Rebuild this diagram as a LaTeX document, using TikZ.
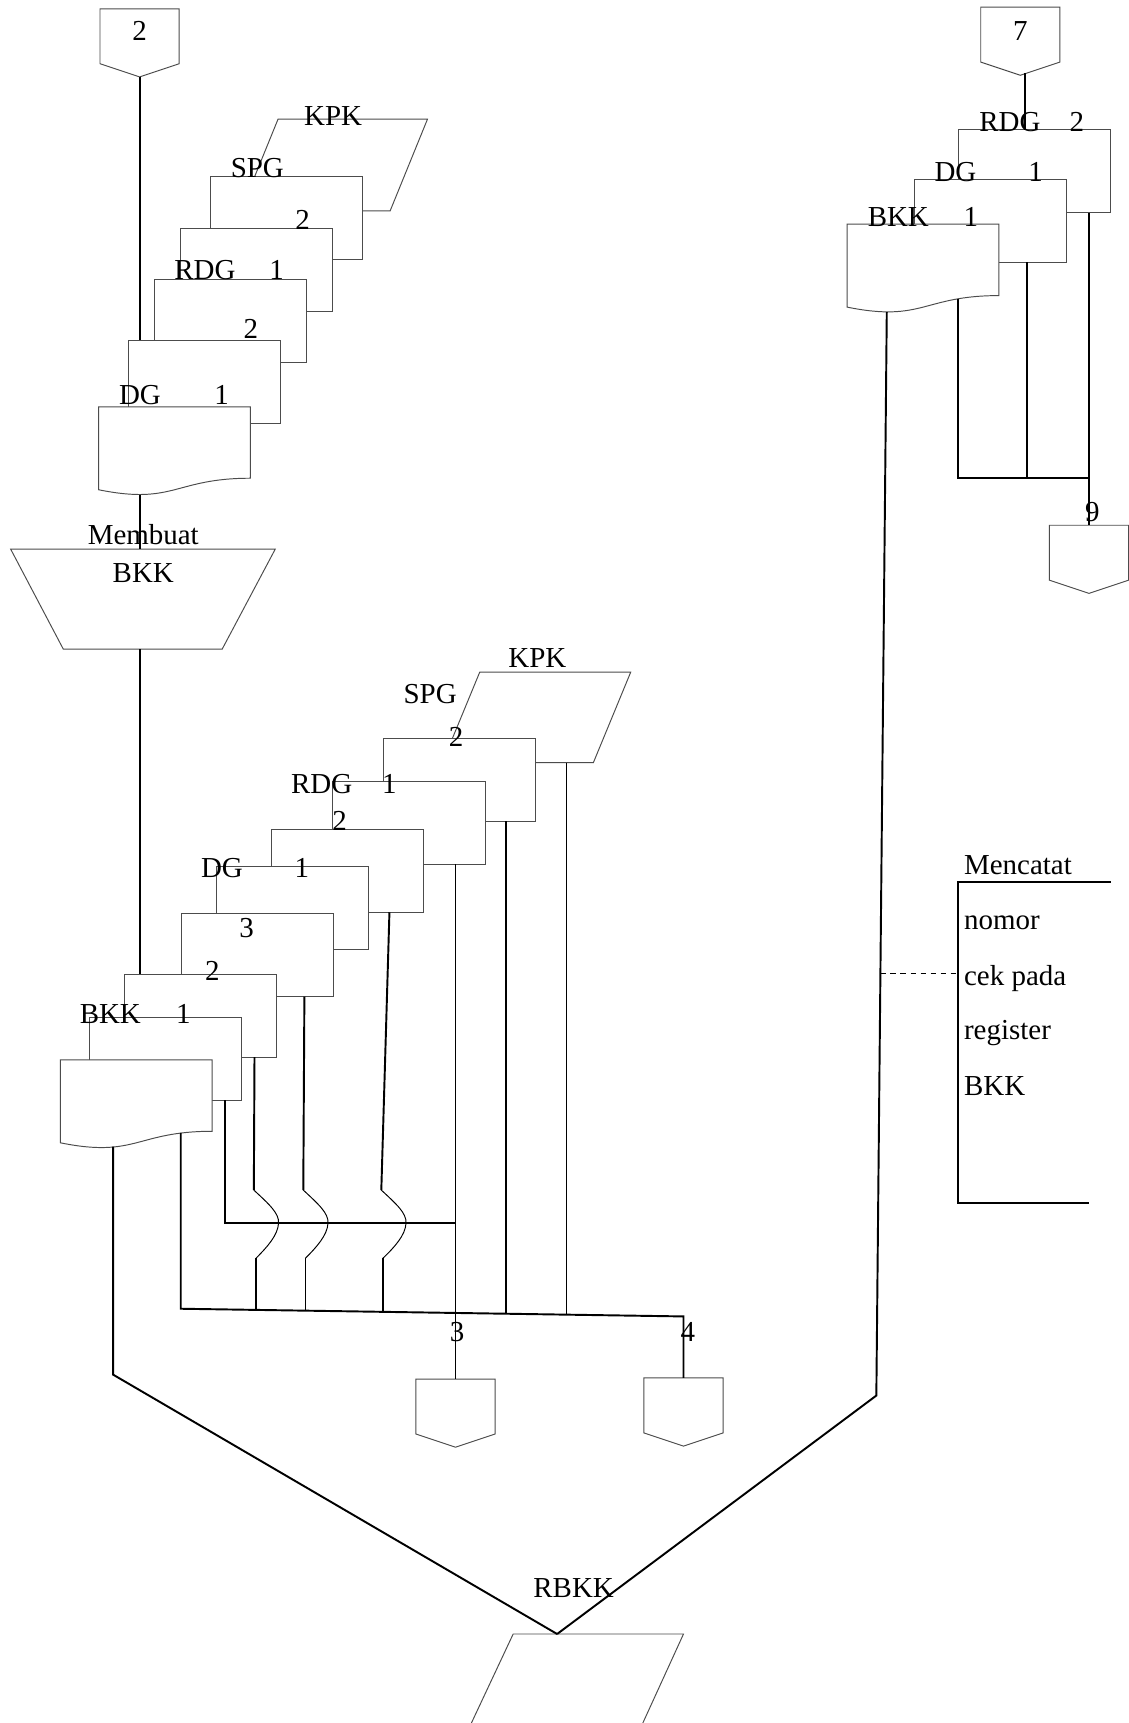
\documentclass[tikz,border=0pt]{standalone}
\usepackage{fontspec}
\setmainfont{Liberation Serif}
\usetikzlibrary{positioning, calc}
\tikzset{
  lembar/.style={rectangle, draw=black!70, fill=white, line width=0.5pt,
    minimum width=2.77cm, minimum height=1.51cm, inner sep=0pt, outer sep=0pt,
    anchor=north west},
  teks/.style={inner sep=0pt, anchor=base, font=\fontsize{15}{18}\selectfont},
  alur/.style={line width=1pt, color=black},
  tipis/.style={line width=0.5pt, draw=black!70},
  lompat/.style={line width=0.5pt, color=black},
  putus/.style={line width=0.8pt, color=black, dash pattern=on 3pt off 2.2pt},
  dokumen/.pic={
    \draw[tipis, fill=white] (0,0) -- (138,0) -- (138,65)
      .. controls (69,65) and (69,89.5) .. (0,75.5) -- cycle;
  },
  offpage/.pic={
    \draw[tipis, fill=white] (-36,0) -- (36,0) -- (36,50) -- (0,62) -- (-36,50) -- cycle;
    \coordinate (-atas) at (0,0);
    \coordinate (-bawah) at (0,62);
  }
}
\begin{document}
\begin{tikzpicture}[x=0.02cm, y=-0.02cm]
  \path[use as bounding box, fill=white] (0,0) rectangle (1027,1568);

  % Kiri atas: dokumen masuk
  \pic (kon2) at (127,8) {offpage};
  \draw[tipis, fill=white] (253,108.5) -- (389,108.5) -- (355,192) -- (219,192) -- cycle;
  \node[lembar] (spgA) at (191.6,160.4) {};
  \node[lembar] (rdgA2) at (164,207.7) {};
  \node[lembar] (rdgA) at (140.4,254) {};
  \node[lembar] (dgA2) at (116.7,309.6) {};
  \pic (dgA) at (89.8,370.2) {dokumen};
  \coordinate (dgA-keluar) at (127,450.3);

  % Proses manual
  \draw[tipis, fill=white] (9.7,499.7) -- (250.5,499.7) -- (202.2,590.7) -- (57.6,590.7) -- cycle;
  \coordinate (proses-atas) at (127,499.7);
  \coordinate (proses-bawah) at (127,590.7);

  % Kiri bawah: dokumen keluar
  \draw[tipis, fill=white] (436.6,611.6) -- (574,611.6) -- (540,694) -- (402.6,694) -- cycle;
  \coordinate (kpkB-bawah) at (515.5,694);
  \node[lembar] (spgB) at (348.7,672) {};
  \node[lembar] (rdgB) at (303,711) {};
  \node[lembar] (rdgB2) at (246.8,754.7) {};
  \node[lembar] (dgB) at (197,788.5) {};
  \node[lembar] (bkkB3) at (165.3,831.5) {};
  \node[lembar] (bkkB2) at (113.3,886.5) {};
  \node[lembar] (bkkB) at (81.5,926) {};
  \pic (bkkDok) at (55,964.5) {dokumen};
  \coordinate (bkkDok-kiri) at (103,1043.5);
  \coordinate (bkkDok-kanan) at (164.5,1031);

  \pic (kon3) at (414.5,1255) {offpage};
  \pic (kon4) at (622,1254) {offpage};

  % Arsip RBKK
  \draw[tipis, fill=white] (429,1568) -- (467,1487) -- (622,1487) -- (585,1568);
  \coordinate (rbkk) at (507,1487);

  % Kanan atas
  \pic (kon7) at (928.5,6.5) {offpage};
  \coordinate (kon7-keluar) at (933,66.5);
  \node[lembar] (rdgC) at (872,118) {};
  \node[lembar] (dgC) at (832,163) {};
  \pic (bkkC) at (771,204) {dokumen};
  \coordinate (bkkC-kanan) at (872,272);
  \coordinate (bkkC-bawah) at (807,284);
  \pic (kon9) at (991,478) {offpage};

  % Garis alir
  \draw[alur] (kon2-bawah) -- (dgA2.north -| kon2-bawah);
  \draw[alur] (dgA-keluar) -- (proses-atas);
  \draw[alur] (proses-bawah) -- (bkkB2.north -| proses-bawah);

  \coordinate (sudutKiri) at (103,1251);
  \draw[alur] (bkkDok-kiri) -- (sudutKiri) -- (rbkk);
  \coordinate (busKiri) at (164.5,1191);
  \coordinate (busKanan) at (622,1198);
  \draw[alur] (bkkDok-kanan) -- (busKiri) -- (busKanan) -- (kon4-atas);
  \coordinate (busAtas) at (205,1113);
  \draw[alur] (bkkB.south -| busAtas) -- (busAtas) -- (414.5,1113);
  \draw[alur] (rdgB.south -| kon3-atas) -- (kon3-atas);
  \draw[alur] (spgB.south -| 460.5,0) -- (460.5,1195.5);
  \draw[alur] (kpkB-bawah) -- (515.5,1196.4);
  \foreach \n/\a/\b/\c/\d in {bkkB2/231.6/231/233/1192, bkkB3/277/276/278/1192.7, rdgB2/354.4/347/348.5/1193.8}{
    \draw[alur] (\n.south -| \a,0) -- (\b,1083);
    \draw[lompat] (\b,1083) .. controls (\b+14,1096) and (\b+23,1104) .. (\b+22.5,1113)
      .. controls (\b+22,1124) and (\b+12,1135) .. (\c,1145);
    \draw[alur] (\c,1145) -- (\c,\d);
  }

  \draw[alur] (kon7-keluar) -- (rdgC.north -| kon7-keluar);
  \coordinate (busC-kiri) at (872,435);
  \coordinate (busC-kanan) at (991,435);
  \draw[alur] (bkkC-kanan) -- (busC-kiri) -- (busC-kanan);
  \draw[alur] (dgC.south -| 935,0) -- (935,435);
  \draw[alur] (rdgC.south -| kon9-atas) -- (kon9-atas);
  \coordinate (sudutKanan) at (797.5,1270);
  \draw[alur] (bkkC-bawah) -- (sudutKanan) -- (rbkk);

  % Catatan
  \coordinate (titikCek) at (801.2,886);
  \coordinate (catatan) at (872,886);
  \draw[putus] (titikCek) -- (catatan);
  \draw[alur] (1011,803) -- (872,803) -- (872,1095) -- (991,1095);

  % Label kiri atas
  \node[teks] (t2a) at (127,37) {2};
  \node[teks] (tKPKa) at (303.2,114.6) {KPK};
  \node[teks] (tSPGa) at (234.2,161.5) {SPG};
  \node[teks] (t2b) at (275.3,209) {2};
  \node[teks] (tRDGa) at (186.5,254.7) {RDG};
  \node[teks] (t1a) at (251.7,254.7) {1};
  \node[teks] (t2c) at (228.3,307.8) {2};
  \node[teks] (tDGa) at (127.4,368.4) {DG};
  \node[teks] (t1b) at (201.7,368.4) {1};
  \node[teks] (tMembuat) at (130.4,495.8) {Membuat};
  \node[teks] (tBKKa) at (130.4,530) {BKK};

  % Label kiri bawah
  \node[teks] (tKPKb) at (489,607) {KPK};
  \node[teks] (tSPGb) at (391.5,640) {SPG};
  \node[teks] (t2d) at (415,679.5) {2};
  \node[teks] (tRDGb) at (292.7,722) {RDG};
  \node[teks] (t1c) at (354.4,722) {1};
  \node[teks] (t2e) at (309,756) {2};
  \node[teks] (tDGb) at (202,799) {DG};
  \node[teks] (t1d) at (274.8,799) {1};
  \node[teks] (t3a) at (224.4,853) {3};
  \node[teks] (t2f) at (193.3,892.5) {2};
  \node[teks] (tBKKb) at (100.4,931.5) {BKK};
  \node[teks] (t1e) at (166.8,931.5) {1};
  \node[teks] (t3b) at (416,1221) {3};
  \node[teks] (t4) at (626,1221) {4};
  \node[teks] (tRBKK) at (522,1454) {RBKK};

  % Label kanan
  \node[teks] (t7) at (928.5,37) {7};
  \node[teks] (tRDGc) at (919,120) {RDG};
  \node[teks] (t2g) at (980,120) {2};
  \node[teks] (tDGc) at (869.5,165) {DG};
  \node[teks] (t1f) at (942.5,165) {1};
  \node[teks] (tBKKc) at (817.5,206) {BKK};
  \node[teks] (t1g) at (883.5,206) {1};
  \node[teks] (t9) at (994,475) {9};
  \node[teks, anchor=base west] (tMencatat) at (877,796) {Mencatat};
  \node[teks, anchor=base west] (tNomor) at (877,846) {nomor};
  \node[teks, anchor=base west] (tCek) at (877,897) {cek pada};
  \node[teks, anchor=base west] (tRegister) at (877,946) {register};
  \node[teks, anchor=base west] (tBKKd) at (877,997) {BKK};
\end{tikzpicture}
\end{document}
